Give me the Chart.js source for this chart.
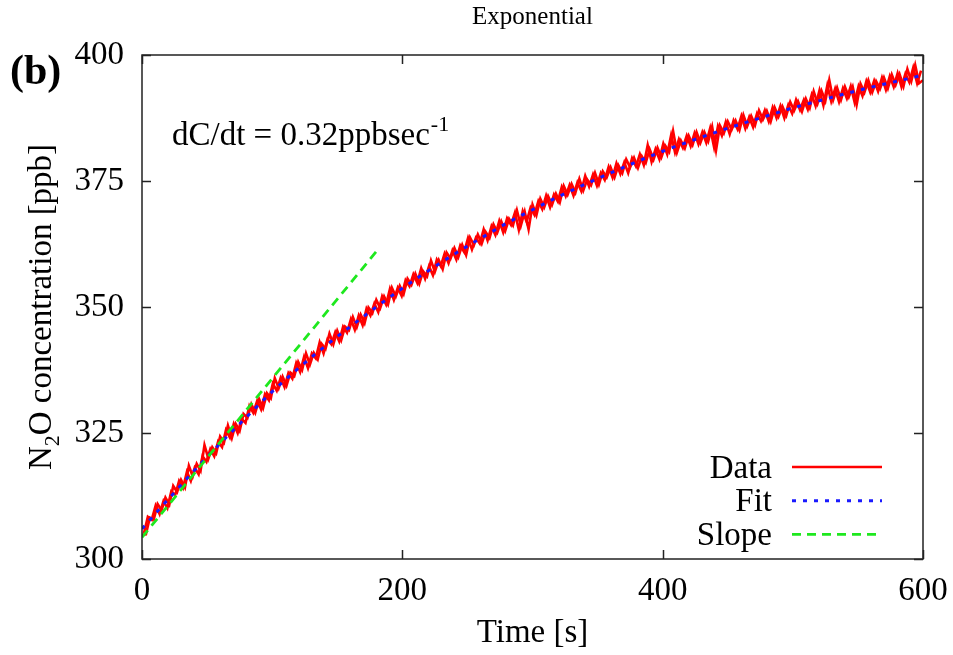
<!DOCTYPE html>
<html lang="en">
<head>
<meta charset="UTF-8">
<title>Exponential</title>
<script src="https://cdn.jsdelivr.net/npm/chart.js"></script>
<style>
  body { margin: 0; background: #fff; }
  #wrap { width: 953px; height: 655px; }
</style>
</head>
<body>
<div id="wrap"><canvas id="grafico" width="953" height="655"></canvas></div>
<script>
// Measured N2O data (time in s, concentration in ppb), read off the figure
// samples on whole 3 s steps
const dataTimes = [
  0, 3, 6, 9, 12, 15, 18, 21, 24, 27,
  30, 33, 36, 39, 42, 45, 48, 51, 54, 57,
  60, 63, 66, 69, 72, 75, 78, 81, 84, 87,
  90, 93, 96, 99, 102, 105, 108, 111, 114, 117,
  120, 123, 126, 129, 132, 135, 138, 141, 144, 147,
  150, 153, 156, 159, 162, 165, 168, 171, 174, 177,
  180, 183, 186, 189, 192, 195, 198, 201, 204, 207,
  210, 213, 216, 219, 222, 225, 228, 231, 234, 237,
  240, 243, 246, 249, 252, 255, 258, 261, 264, 267,
  270, 273, 276, 279, 282, 285, 288, 291, 294, 297,
  300, 303, 306, 309, 312, 315, 318, 321, 324, 327,
  330, 333, 336, 339, 342, 345, 348, 351, 354, 357,
  360, 363, 366, 369, 372, 375, 378, 381, 384, 387,
  390, 393, 396, 399, 402, 405, 408, 411, 414, 417,
  420, 423, 426, 429, 432, 435, 438, 441, 444, 447,
  450, 453, 456, 459, 462, 465, 468, 471, 474, 477,
  480, 483, 486, 489, 492, 495, 498, 501, 504, 507,
  510, 513, 516, 519, 522, 525, 528, 531, 534, 537,
  540, 543, 546, 549, 552, 555, 558, 561, 564, 567,
  570, 573, 576, 579, 582, 585, 588, 591, 594, 597, 600
];
const dataValues = [
  304.8, 304.9, 308.2, 307.8, 310.9, 309.7, 312.2, 310.8, 314.5, 313.3,
  315.7, 314.2, 318.5, 316.4, 318.9, 317.5, 322.6, 319.9, 322.2, 321.0,
  324.3, 323.1, 326.5, 324.0, 326.8, 325.4, 328.8, 328.0, 330.7, 329.0,
  331.7, 329.9, 332.9, 331.9, 335.9, 333.9, 336.2, 334.4, 337.0, 336.3,
  339.1, 337.5, 340.8, 338.6, 340.9, 339.6, 342.7, 341.7, 344.7, 342.6,
  345.3, 343.4, 346.1, 345.4, 348.0, 346.0, 348.5, 346.8, 349.9, 348.8,
  351.4, 349.8, 352.1, 350.5, 353.8, 352.1, 354.2, 352.6, 355.6, 354.4,
  356.6, 354.6, 357.1, 356.1, 359.2, 357.0, 359.3, 357.5, 360.8, 359.6,
  361.7, 359.9, 362.3, 360.3, 363.8, 362.3, 364.4, 362.6, 364.9, 363.7,
  366.4, 364.8, 367.0, 365.1, 367.5, 366.2, 369.2, 366.1, 368.9, 365.4,
  370.3, 368.2, 371.5, 369.8, 372.0, 370.3, 372.5, 370.8, 374.0, 372.3,
  374.4, 372.7, 375.4, 373.1, 375.3, 374.2, 376.6, 374.3, 376.9, 375.7,
  377.7, 375.7, 378.1, 376.6, 379.3, 377.7, 379.6, 377.6, 379.9, 378.6,
  381.3, 379.3, 381.6, 379.7, 382.0, 380.8, 384.9, 380.7, 383.0, 381.5,
  384.0, 382.2, 384.7, 382.6, 384.7, 382.9, 385.8, 381.1, 386.0, 384.5,
  386.8, 385.2, 387.0, 385.1, 388.1, 385.9, 387.9, 386.1, 389.0, 387.2,
  388.9, 386.8, 389.6, 387.8, 389.8, 388.0, 390.7, 389.0, 390.8, 388.8,
  391.3, 389.5, 392.8, 390.4, 392.9, 390.9, 395.0, 391.1, 393.5, 391.1,
  393.7, 391.7, 393.7, 390.1, 394.3, 392.6, 395.0, 392.6, 394.8, 393.3,
  395.5, 393.4, 396.1, 394.1, 396.2, 393.8, 397.2, 394.8, 398.0, 394.4, 395.0
];
// samples in between (half steps)
const dataTimesHalf = [
  1.5, 4.5, 7.5, 10.5, 13.5, 16.5, 19.5, 22.5, 25.5, 28.5,
  31.5, 34.5, 37.5, 40.5, 43.5, 46.5, 49.5, 52.5, 55.5, 58.5,
  61.5, 64.5, 67.5, 70.5, 73.5, 76.5, 79.5, 82.5, 85.5, 88.5,
  91.5, 94.5, 97.5, 100.5, 103.5, 106.5, 109.5, 112.5, 115.5, 118.5,
  121.5, 124.5, 127.5, 130.5, 133.5, 136.5, 139.5, 142.5, 145.5, 148.5,
  151.5, 154.5, 157.5, 160.5, 163.5, 166.5, 169.5, 172.5, 175.5, 178.5,
  181.5, 184.5, 187.5, 190.5, 193.5, 196.5, 199.5, 202.5, 205.5, 208.5,
  211.5, 214.5, 217.5, 220.5, 223.5, 226.5, 229.5, 232.5, 235.5, 238.5,
  241.5, 244.5, 247.5, 250.5, 253.5, 256.5, 259.5, 262.5, 265.5, 268.5,
  271.5, 274.5, 277.5, 280.5, 283.5, 286.5, 289.5, 292.5, 295.5, 298.5,
  301.5, 304.5, 307.5, 310.5, 313.5, 316.5, 319.5, 322.5, 325.5, 328.5,
  331.5, 334.5, 337.5, 340.5, 343.5, 346.5, 349.5, 352.5, 355.5, 358.5,
  361.5, 364.5, 367.5, 370.5, 373.5, 376.5, 379.5, 382.5, 385.5, 388.5,
  391.5, 394.5, 397.5, 400.5, 403.5, 406.5, 409.5, 412.5, 415.5, 418.5,
  421.5, 424.5, 427.5, 430.5, 433.5, 436.5, 439.5, 442.5, 445.5, 448.5,
  451.5, 454.5, 457.5, 460.5, 463.5, 466.5, 469.5, 472.5, 475.5, 478.5,
  481.5, 484.5, 487.5, 490.5, 493.5, 496.5, 499.5, 502.5, 505.5, 508.5,
  511.5, 514.5, 517.5, 520.5, 523.5, 526.5, 529.5, 532.5, 535.5, 538.5,
  541.5, 544.5, 547.5, 550.5, 553.5, 556.5, 559.5, 562.5, 565.5, 568.5,
  571.5, 574.5, 577.5, 580.5, 583.5, 586.5, 589.5, 592.5, 595.5, 598.5
];
const dataValuesHalf = [
  305.1, 308.4, 307.8, 310.6, 308.9, 311.5, 310.1, 313.4, 312.7, 315.5,
  314.1, 317.3, 315.5, 318.1, 316.8, 320.4, 319.3, 321.8, 320.4, 323.3,
  322.2, 325.6, 324.1, 326.8, 325.0, 327.8, 327.0, 330.4, 329.0, 331.4,
  329.7, 332.7, 331.5, 334.8, 333.4, 335.9, 334.1, 336.9, 335.8, 338.9,
  337.1, 340.1, 337.9, 340.8, 339.8, 343.0, 340.8, 343.6, 342.6, 345.0,
  343.2, 346.1, 344.9, 347.6, 345.5, 348.3, 346.4, 349.7, 348.3, 350.7,
  349.0, 352.1, 350.5, 353.6, 351.4, 353.8, 352.2, 355.3, 354.1, 356.5,
  354.8, 357.7, 355.6, 358.1, 356.3, 359.4, 358.1, 360.6, 358.7, 361.2,
  359.4, 362.2, 360.9, 363.7, 361.4, 363.7, 362.6, 365.4, 363.2, 366.0,
  364.3, 367.1, 364.8, 367.6, 366.3, 368.7, 365.3, 369.0, 366.9, 369.7,
  368.3, 371.0, 369.4, 372.1, 369.8, 372.3, 370.9, 373.8, 372.0, 374.2,
  372.1, 374.7, 373.0, 376.0, 373.9, 376.3, 374.1, 376.6, 375.2, 377.8,
  375.7, 378.5, 376.4, 378.7, 376.6, 379.5, 377.9, 380.3, 378.2, 382.1,
  378.8, 381.3, 379.3, 382.4, 380.3, 384.1, 380.7, 383.3, 381.6, 384.0,
  381.9, 384.5, 382.3, 384.7, 382.6, 385.5, 381.7, 385.9, 384.0, 386.7,
  384.3, 387.0, 385.3, 387.9, 385.4, 387.7, 385.7, 388.4, 386.9, 389.0,
  386.8, 389.6, 387.5, 389.9, 387.5, 390.1, 388.4, 391.1, 389.1, 391.1,
  389.2, 392.1, 389.9, 393.0, 390.0, 394.0, 390.8, 393.3, 390.7, 393.4,
  391.4, 393.8, 390.6, 393.8, 391.9, 394.8, 392.6, 394.9, 392.8, 395.5,
  393.1, 395.8, 393.7, 396.4, 393.7, 396.3, 394.6, 397.5, 394.4, 396.9
];

// Exponential fit, read every 20 s
const fitTimes = [0, 20, 40, 60, 80, 100, 120, 140, 160, 180, 200, 220, 240, 260, 280, 300,
                  320, 340, 360, 380, 400, 420, 440, 460, 480, 500, 520, 540, 560, 580, 600];
const fitValues = [306.0, 311.8, 317.5, 322.9, 328.1, 333.2, 337.8, 342.1, 346.1, 350.0, 353.7,
                   357.2, 360.5, 363.6, 366.6, 369.3, 371.9, 374.3, 376.6, 378.8, 380.9, 382.8,
                   384.6, 386.3, 387.9, 389.5, 390.9, 392.3, 393.6, 394.8, 396.0];

// Initial slope line
const slopeTimes = [0, 180];
const slopeValues = [304.3, 361.0];

// Axes
const xTicks = [0, 200, 400, 600];
const yTicks = [300, 325, 350, 375, 400];

const serif = "'Liberation Serif', 'Times New Roman', serif";
const fs = 33; // main text size
Chart.defaults.font.family = serif;
Chart.defaults.color = '#000';

function pares(xs, ys) {
  return xs.map((t, i) => ({ x: t, y: ys[i] }));
}

// frame, inward ticks, legend and texts (gnuplot look)
const decor = {
  id: 'decor',
  afterDatasetsDraw(chart) {
    const { ctx, chartArea: a, scales } = chart;
    const x = scales.x, y = scales.y;
    ctx.save();
    ctx.strokeStyle = '#222';
    ctx.lineWidth = 1.5;
    ctx.strokeRect(a.left, a.top, a.right - a.left, a.bottom - a.top);
    ctx.beginPath();
    x.ticks.forEach(t => {
      const px = Math.round(x.getPixelForValue(t.value)) + 0.5;
      ctx.moveTo(px, a.bottom); ctx.lineTo(px, a.bottom - 9);
      ctx.moveTo(px, a.top); ctx.lineTo(px, a.top + 9);
    });
    y.ticks.forEach(t => {
      const py = Math.round(y.getPixelForValue(t.value)) + 0.5;
      ctx.moveTo(a.left, py); ctx.lineTo(a.left + 9, py);
      ctx.moveTo(a.right, py); ctx.lineTo(a.right - 9, py);
    });
    ctx.stroke();

    // legend (bottom right, text right aligned)
    ctx.font = fs + 'px ' + serif;
    ctx.textAlign = 'right';
    ctx.textBaseline = 'middle';
    chart.data.datasets.filter(ds => ds.enLeyenda !== false).forEach((ds, i) => {
      const ly = 467 + i * 33.7;
      ctx.fillStyle = '#000';
      ctx.fillText(ds.label, 772, ly + 2);
      ctx.strokeStyle = ds.borderColor;
      ctx.lineWidth = ds.legendWidth || ds.borderWidth;
      ctx.setLineDash(ds.borderDash || []);
      ctx.beginPath();
      ctx.moveTo(792, ly); ctx.lineTo(882, ly);
      ctx.stroke();
    });
    ctx.setLineDash([]);

    // title
    ctx.textAlign = 'center';
    ctx.textBaseline = 'alphabetic';
    ctx.font = '25px ' + serif;
    ctx.fillText('Exponential', (a.left + a.right) / 2, 24);

    // panel label
    ctx.textAlign = 'left';
    ctx.font = 'bold 42px ' + serif;
    ctx.fillText('(b)', 10, 84);

    // slope annotation
    ctx.font = fs + 'px ' + serif;
    const txt = 'dC/dt = 0.32ppbsec';
    ctx.fillText(txt, 172, 145);
    const w = ctx.measureText(txt).width;
    ctx.font = '22px ' + serif;
    ctx.fillText('-1', 172 + w + 1, 131);

    // x title
    ctx.font = fs + 'px ' + serif;
    ctx.textAlign = 'center';
    ctx.fillText('Time [s]', (a.left + a.right) / 2, 642);

    // y title with subscript
    ctx.translate(40, 307);
    ctx.rotate(-Math.PI / 2);
    const big = fs + 'px ' + serif, small = '22px ' + serif;
    ctx.font = big; const wN = ctx.measureText('N').width;
    const rest = 'O concentration [ppb]';
    const wR = ctx.measureText(rest).width;
    ctx.font = small; const w2 = ctx.measureText('2').width;
    const sx = -(wN + w2 + wR) / 2;
    ctx.textAlign = 'left';
    ctx.font = big; ctx.fillText('N', sx, 11);
    ctx.font = small; ctx.fillText('2', sx + wN, 19);
    ctx.font = big; ctx.fillText(rest, sx + wN + w2, 11);
    ctx.restore();
  }
};

const ctx = document.getElementById('grafico').getContext('2d');
new Chart(ctx, {
  type: 'line',
  data: {
    datasets: [
      {
        label: 'Data',
        data: pares(dataTimes, dataValues),
        borderColor: '#ff0000',
        borderWidth: 2.6,
        legendWidth: 2.5,
        pointRadius: 0,
        order: 3
      },
      {
        label: 'Fit',
        data: pares(fitTimes, fitValues),
        borderColor: '#1a1aff',
        borderWidth: 3,
        borderDash: [4, 7],
        pointRadius: 0,
        cubicInterpolationMode: 'monotone',
        order: 2
      },
      {
        label: 'Slope',
        data: pares(slopeTimes, slopeValues),
        borderColor: '#1ee81e',
        borderWidth: 2.8,
        borderDash: [9, 6],
        pointRadius: 0,
        order: 1
      },
      {
        // same measurement, half-step samples (shares the Data legend entry)
        label: 'Data',
        enLeyenda: false,
        data: pares(dataTimesHalf, dataValuesHalf),
        borderColor: '#ff0000',
        borderWidth: 2.6,
        pointRadius: 0,
        order: 4
      }
    ]
  },
  options: {
    responsive: false,
    animation: false,
    layout: { padding: { top: 55, right: 30, left: 0, bottom: 0 } },
    plugins: {
      legend: { display: false },
      tooltip: { enabled: false },
      title: { display: false }
    },
    scales: {
      x: {
        type: 'linear',
        min: 0,
        max: 600,
        afterBuildTicks: s => { s.ticks = xTicks.map(v => ({ value: v })); },
        afterFit: s => { s.height = 96; s.paddingLeft = 0; s.paddingRight = 0; },
        grid: { display: false, drawTicks: false },
        border: { display: false },
        ticks: { font: { size: fs }, padding: 13, maxRotation: 0 }
      },
      y: {
        type: 'linear',
        min: 300,
        max: 400,
        afterBuildTicks: s => { s.ticks = yTicks.map(v => ({ value: v })); },
        afterFit: s => { s.width = 142; s.paddingTop = 0; s.paddingBottom = 0; },
        grid: { display: false, drawTicks: false },
        border: { display: false },
        ticks: { font: { size: fs }, padding: 18 }
      }
    }
  },
  plugins: [decor]
});
</script>
</body>
</html>
